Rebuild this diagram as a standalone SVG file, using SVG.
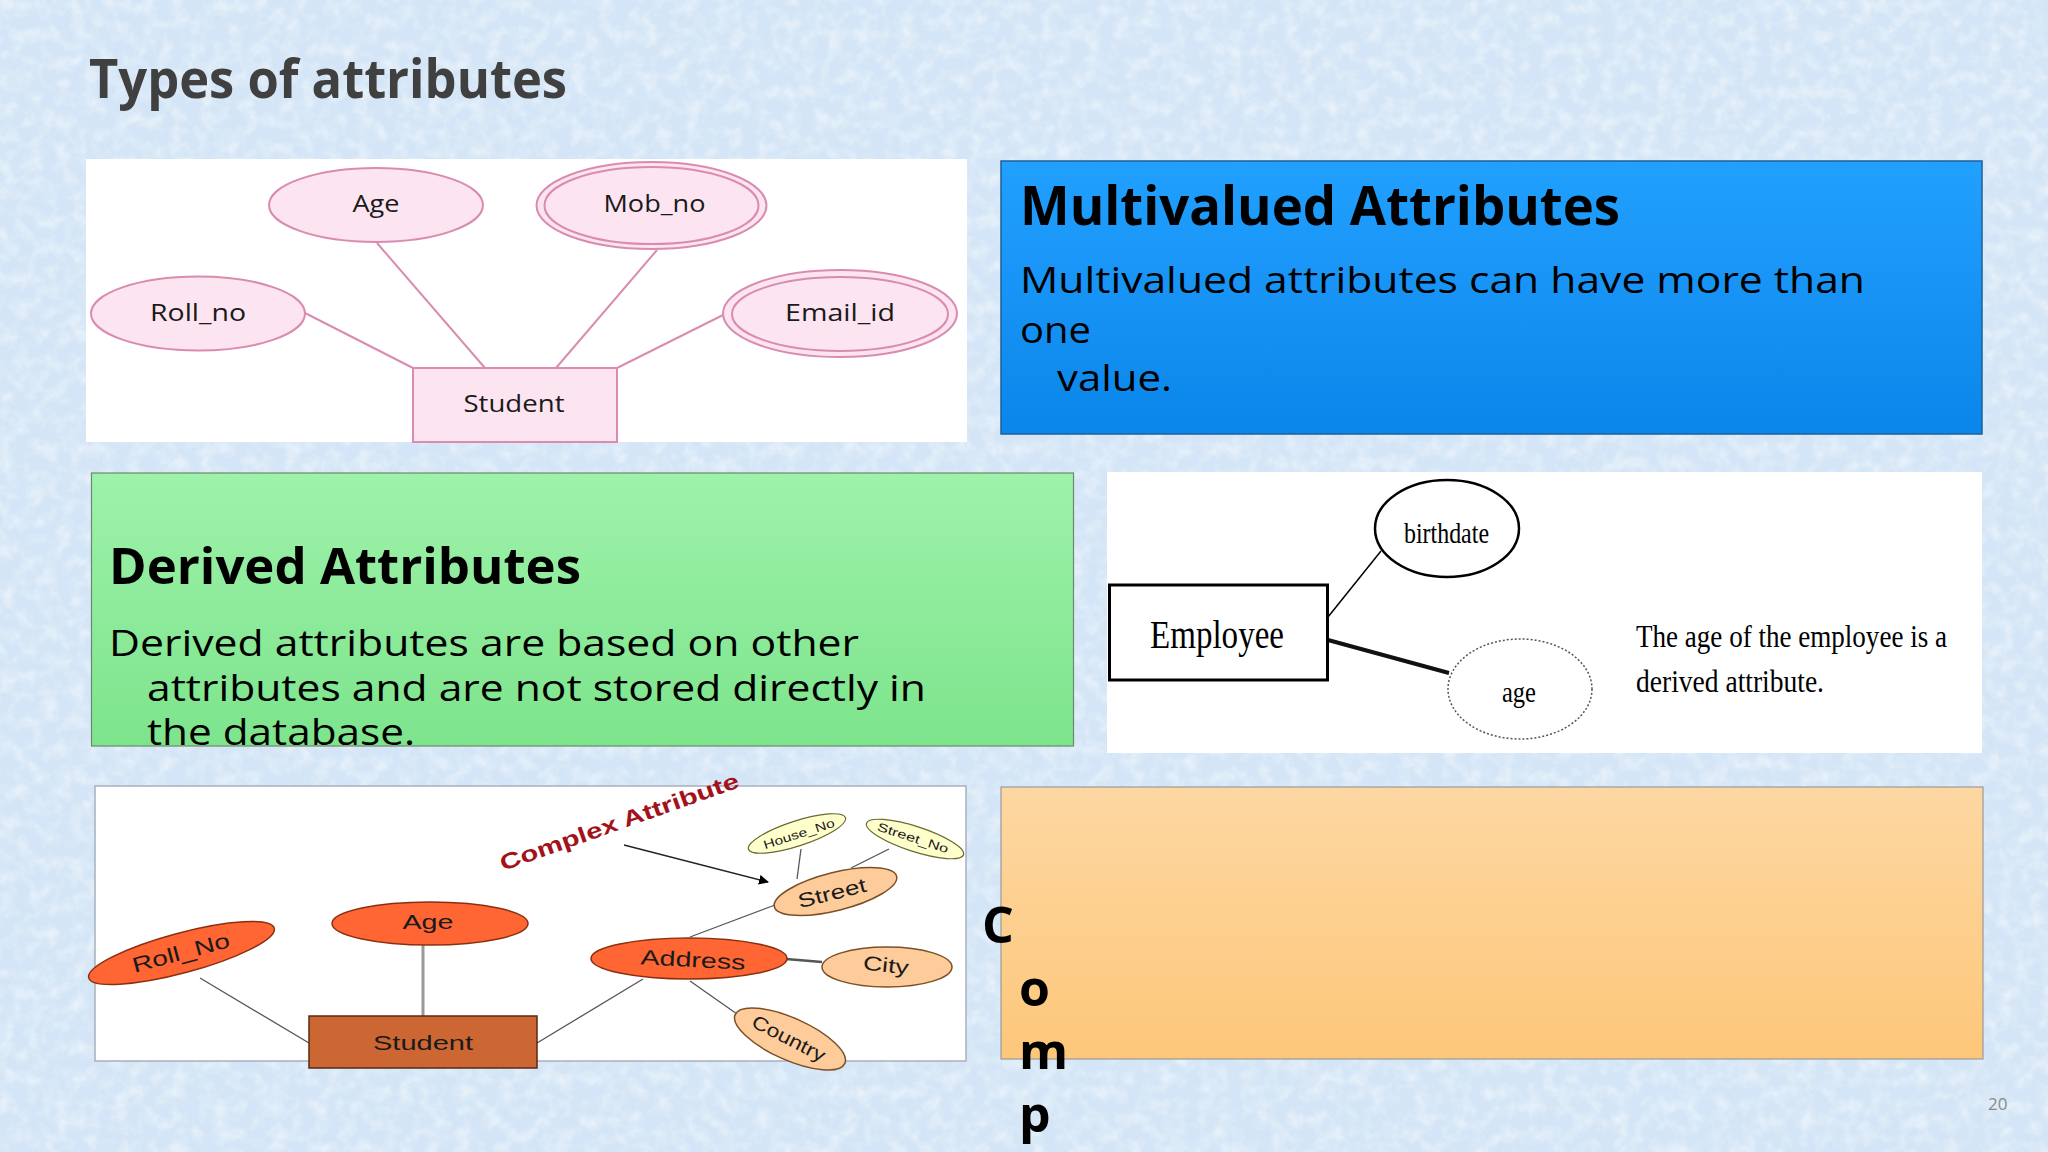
<svg xmlns="http://www.w3.org/2000/svg" width="2048" height="1152" viewBox="0 0 2048 1152">
<defs>
<filter id="tex" x="0" y="0" width="100%" height="100%">
<feTurbulence type="fractalNoise" baseFrequency="0.07" numOctaves="3" seed="5"/>
<feColorMatrix type="matrix" values="0 0 0 0 1  0 0 0 0 1  0 0 0 0 1  1.6 0 0 0 -0.62"/>
</filter>
<linearGradient id="gBlue" x1="0" y1="0" x2="0" y2="1">
<stop offset="0" stop-color="#22a0ff"/><stop offset="1" stop-color="#0a86ea"/>
</linearGradient>
<linearGradient id="gGreen" x1="0" y1="0" x2="0" y2="1">
<stop offset="0" stop-color="#9ef2aa"/><stop offset="1" stop-color="#7de48c"/>
</linearGradient>
<linearGradient id="gOrange" x1="0" y1="0" x2="0" y2="1">
<stop offset="0" stop-color="#fdd7a2"/><stop offset="1" stop-color="#fdc77a"/>
</linearGradient>
<marker id="arr" viewBox="0 0 10 10" refX="9" refY="5" markerWidth="10" markerHeight="10" orient="auto" markerUnits="userSpaceOnUse">
<path d="M0,0 L10,5 L0,10 z" fill="#000"/>
</marker>
<style>
.slide{font-family:"Open Sans","Noto Sans",sans-serif}
.pk{fill:#fce4f0;stroke:#d98cb0;stroke-width:2}
.pkl{stroke:#d98cb0;stroke-width:2;fill:none}
.pt{font-family:"Open Sans","Noto Sans",sans-serif;font-size:23px;fill:#1a1a1a;text-anchor:middle}
.sf{font-family:"Liberation Serif","Times New Roman",serif;fill:#000}
.ar{font-family:"Liberation Sans",Arial,sans-serif;fill:#1a1a1a;text-anchor:middle}
.red{fill:#ff6633;stroke:#8a3010;stroke-width:1.5}
.pch{fill:#fdcc9a;stroke:#7a5028;stroke-width:1.5}
.yel{fill:#ffffcc;stroke:#6a6a30;stroke-width:1.2}
.cl{stroke:#555;stroke-width:1.3;fill:none}
</style>
</defs>

<rect width="2048" height="1152" fill="#d3e5f6"/>
<rect width="2048" height="1152" filter="url(#tex)" opacity="0.6"/>

<text class="slide" x="89" y="98" font-size="53" font-weight="bold" fill="#404040" textLength="478" lengthAdjust="spacingAndGlyphs">Types of attributes</text>

<!-- Panel 1: simple / multivalued ER -->
<g id="panel1">
<rect x="86" y="159" width="881" height="283" fill="#ffffff"/>
</g>
<g id="connectors1">
<line class="pkl" x1="305" y1="313" x2="413" y2="368"/>
<line class="pkl" x1="377" y1="243" x2="485" y2="368"/>
<line class="pkl" x1="657" y1="250" x2="556" y2="368"/>
<line class="pkl" x1="723" y1="315" x2="617" y2="368"/>
</g>
<g id="p1-age"><ellipse class="pk" cx="376" cy="205" rx="107" ry="37"/><text class="pt" x="376" y="212" textLength="47" lengthAdjust="spacingAndGlyphs">Age</text></g>
<g id="p1-mob"><ellipse class="pk" cx="651.5" cy="205.5" rx="115" ry="43.5"/><ellipse class="pk" cx="651.5" cy="205.5" rx="107" ry="38.5"/><text class="pt" x="654.5" y="212" textLength="102" lengthAdjust="spacingAndGlyphs">Mob_no</text></g>
<g id="p1-roll"><ellipse class="pk" cx="198" cy="313.5" rx="107" ry="37"/><text class="pt" x="198" y="321" textLength="96" lengthAdjust="spacingAndGlyphs">Roll_no</text></g>
<g id="p1-email"><ellipse class="pk" cx="840" cy="313.5" rx="117" ry="43.5"/><ellipse class="pk" cx="840" cy="314" rx="108" ry="37"/><text class="pt" x="840" y="321" textLength="110" lengthAdjust="spacingAndGlyphs">Email_id</text></g>
<g id="p1-student"><rect class="pk" x="413" y="368" width="204" height="74"/><text class="pt" x="514" y="412" textLength="101" lengthAdjust="spacingAndGlyphs">Student</text></g>

<!-- Multivalued box -->
<g id="multivalued">
<rect x="1001" y="161" width="981" height="273" fill="url(#gBlue)" stroke="#1f5f9a" stroke-width="1.5"/>
<text class="slide" x="1020" y="225" font-size="54" font-weight="bold" fill="#000" textLength="600" lengthAdjust="spacingAndGlyphs">Multivalued Attributes</text>
<text class="slide" x="1020" y="293" font-size="37" fill="#000" textLength="845" lengthAdjust="spacingAndGlyphs">Multivalued attributes can have more than</text>
<text class="slide" x="1020" y="343" font-size="37" fill="#000" textLength="71" lengthAdjust="spacingAndGlyphs">one</text>
<text class="slide" x="1057" y="391" font-size="37" fill="#000" textLength="115" lengthAdjust="spacingAndGlyphs">value.</text>
</g>

<!-- Derived box -->
<g id="derived">
<rect x="91.5" y="473" width="982" height="273" fill="url(#gGreen)" stroke="#6b8a6b" stroke-width="1.2"/>
<text class="slide" x="109" y="584" font-size="51" font-weight="bold" fill="#000" textLength="472" lengthAdjust="spacingAndGlyphs">Derived Attributes</text>
<text class="slide" x="109" y="656" font-size="36" fill="#000" textLength="750" lengthAdjust="spacingAndGlyphs">Derived attributes are based on other</text>
<text class="slide" x="147" y="701" font-size="36" fill="#000" textLength="779" lengthAdjust="spacingAndGlyphs">attributes and are not stored directly in</text>
<text class="slide" x="147" y="745" font-size="36" fill="#000" textLength="268" lengthAdjust="spacingAndGlyphs">the database.</text>
</g>

<!-- Panel 2: derived ER -->
<g id="panel2">
<rect x="1107" y="472" width="875" height="281" fill="#ffffff"/>
</g>
<g id="connectors2">
<line x1="1328" y1="617" x2="1381" y2="551" stroke="#000" stroke-width="1.5"/>
<line x1="1328" y1="640" x2="1449" y2="673" stroke="#111" stroke-width="4"/>
</g>
<g id="p2-employee"><rect x="1109.5" y="585" width="218" height="95" fill="#fff" stroke="#000" stroke-width="3"/><text class="sf" x="1150" y="648" font-size="40" textLength="134" lengthAdjust="spacingAndGlyphs">Employee</text></g>
<g id="p2-birthdate"><ellipse cx="1447" cy="528.5" rx="72" ry="48.5" fill="#fff" stroke="#000" stroke-width="2.5"/><text class="sf" x="1404" y="543" font-size="29" textLength="85" lengthAdjust="spacingAndGlyphs">birthdate</text></g>
<g id="p2-age"><ellipse cx="1520" cy="689" rx="72" ry="50" fill="#fff" stroke="#555" stroke-width="1.5" stroke-dasharray="2 2"/><text class="sf" x="1502" y="702" font-size="29" textLength="34" lengthAdjust="spacingAndGlyphs">age</text></g>
<text class="sf" x="1636" y="647" font-size="32" textLength="311" lengthAdjust="spacingAndGlyphs">The age of the employee is a</text>
<text class="sf" x="1636" y="692" font-size="32" textLength="188" lengthAdjust="spacingAndGlyphs">derived attribute.</text>

<!-- Panel 3: complex ER -->
<g id="panel3">
<rect x="95" y="786" width="871" height="275" fill="#ffffff" stroke="#a8b0bc" stroke-width="1.5"/>
</g>
<g id="connectors3">
<line class="cl" x1="200" y1="978" x2="309" y2="1043"/>
<line x1="423" y1="945" x2="423" y2="1016" stroke="#999" stroke-width="3"/>
<line class="cl" x1="537" y1="1043" x2="643" y2="979"/>
<line class="cl" x1="690" y1="937" x2="775" y2="905"/>
<line class="cl" x1="801" y1="849" x2="797" y2="879" stroke-width="2"/>
<line class="cl" x1="889" y1="849" x2="851" y2="868"/>
<line x1="786" y1="959" x2="822" y2="962" stroke="#555" stroke-width="2.5"/>
<line class="cl" x1="690" y1="981" x2="737" y2="1014"/>
<line x1="624" y1="845" x2="768" y2="882" stroke="#222" stroke-width="1.3" marker-end="url(#arr)"/>
</g>
<text class="ar" x="503" y="871" font-size="22" font-weight="bold" style="text-anchor:start;fill:#a3111a" transform="rotate(-19.5 503 871)" textLength="252" lengthAdjust="spacingAndGlyphs">Complex Attribute</text>
<g id="p3-student"><rect x="309" y="1016" width="228" height="52" fill="#cc6633" stroke="#5a2a10" stroke-width="1.5"/><text class="ar" x="423" y="1050" font-size="21" textLength="100" lengthAdjust="spacingAndGlyphs">Student</text></g>
<g id="p3-roll"><ellipse class="red" cx="181.5" cy="953" rx="96" ry="20" transform="rotate(-15 181.5 953)"/><text class="ar" font-size="21" transform="translate(181 953) rotate(-15)" x="0" y="7" textLength="100" lengthAdjust="spacingAndGlyphs">Roll_No</text></g>
<g id="p3-age"><ellipse class="red" cx="430" cy="923.5" rx="98" ry="21.5"/><text class="ar" x="428" y="929" font-size="21" textLength="51" lengthAdjust="spacingAndGlyphs">Age</text></g>
<g id="p3-address"><ellipse class="red" cx="689" cy="958.5" rx="98" ry="20.5"/><text class="ar" font-size="21" transform="translate(693 960) rotate(3)" x="0" y="7" textLength="105" lengthAdjust="spacingAndGlyphs">Address</text></g>
<g id="p3-street"><ellipse class="pch" cx="835.5" cy="891.5" rx="63" ry="19" transform="rotate(-14 835.5 891.5)"/><text class="ar" font-size="20" transform="translate(832 893) rotate(-14)" x="0" y="7" textLength="70" lengthAdjust="spacingAndGlyphs">Street</text></g>
<g id="p3-house"><ellipse class="yel" cx="797" cy="833.5" rx="51" ry="12.5" transform="rotate(-18 797 833.5)"/><text class="ar" font-size="12" transform="translate(799 834) rotate(-18)" x="0" y="4" textLength="74" lengthAdjust="spacingAndGlyphs">House_No</text></g>
<g id="p3-streetno"><ellipse class="yel" cx="915" cy="839" rx="51" ry="12.5" transform="rotate(18 915 839)"/><text class="ar" font-size="12" transform="translate(913 838) rotate(18)" x="0" y="4" textLength="74" lengthAdjust="spacingAndGlyphs">Street_No</text></g>
<g id="p3-city"><ellipse class="pch" cx="887" cy="967" rx="65" ry="20"/><text class="ar" font-size="20" transform="translate(886 965) rotate(6)" x="0" y="7" textLength="46" lengthAdjust="spacingAndGlyphs">City</text></g>
<g id="p3-country"><ellipse class="pch" cx="790" cy="1039" rx="60" ry="21" transform="rotate(24 790 1039)"/><text class="ar" font-size="19" transform="translate(789 1038) rotate(27)" x="0" y="7" textLength="80" lengthAdjust="spacingAndGlyphs">Country</text></g>

<!-- Orange box -->
<g id="composite">
<rect x="1001" y="787" width="982" height="272" fill="url(#gOrange)" stroke="#9a9a9a" stroke-width="1.2"/>
<text class="slide" x="982" y="943" font-size="50" font-weight="bold" fill="#000">C</text>
<text class="slide" x="1019" y="1006" font-size="50" font-weight="bold" fill="#000">o</text>
<text class="slide" x="1019" y="1069" font-size="50" font-weight="bold" fill="#000">m</text>
<text class="slide" x="1019" y="1132" font-size="50" font-weight="bold" fill="#000">p</text>
</g>

<text class="slide" x="1988" y="1110" font-size="17" fill="#8a8a8a">20</text>
</svg>
